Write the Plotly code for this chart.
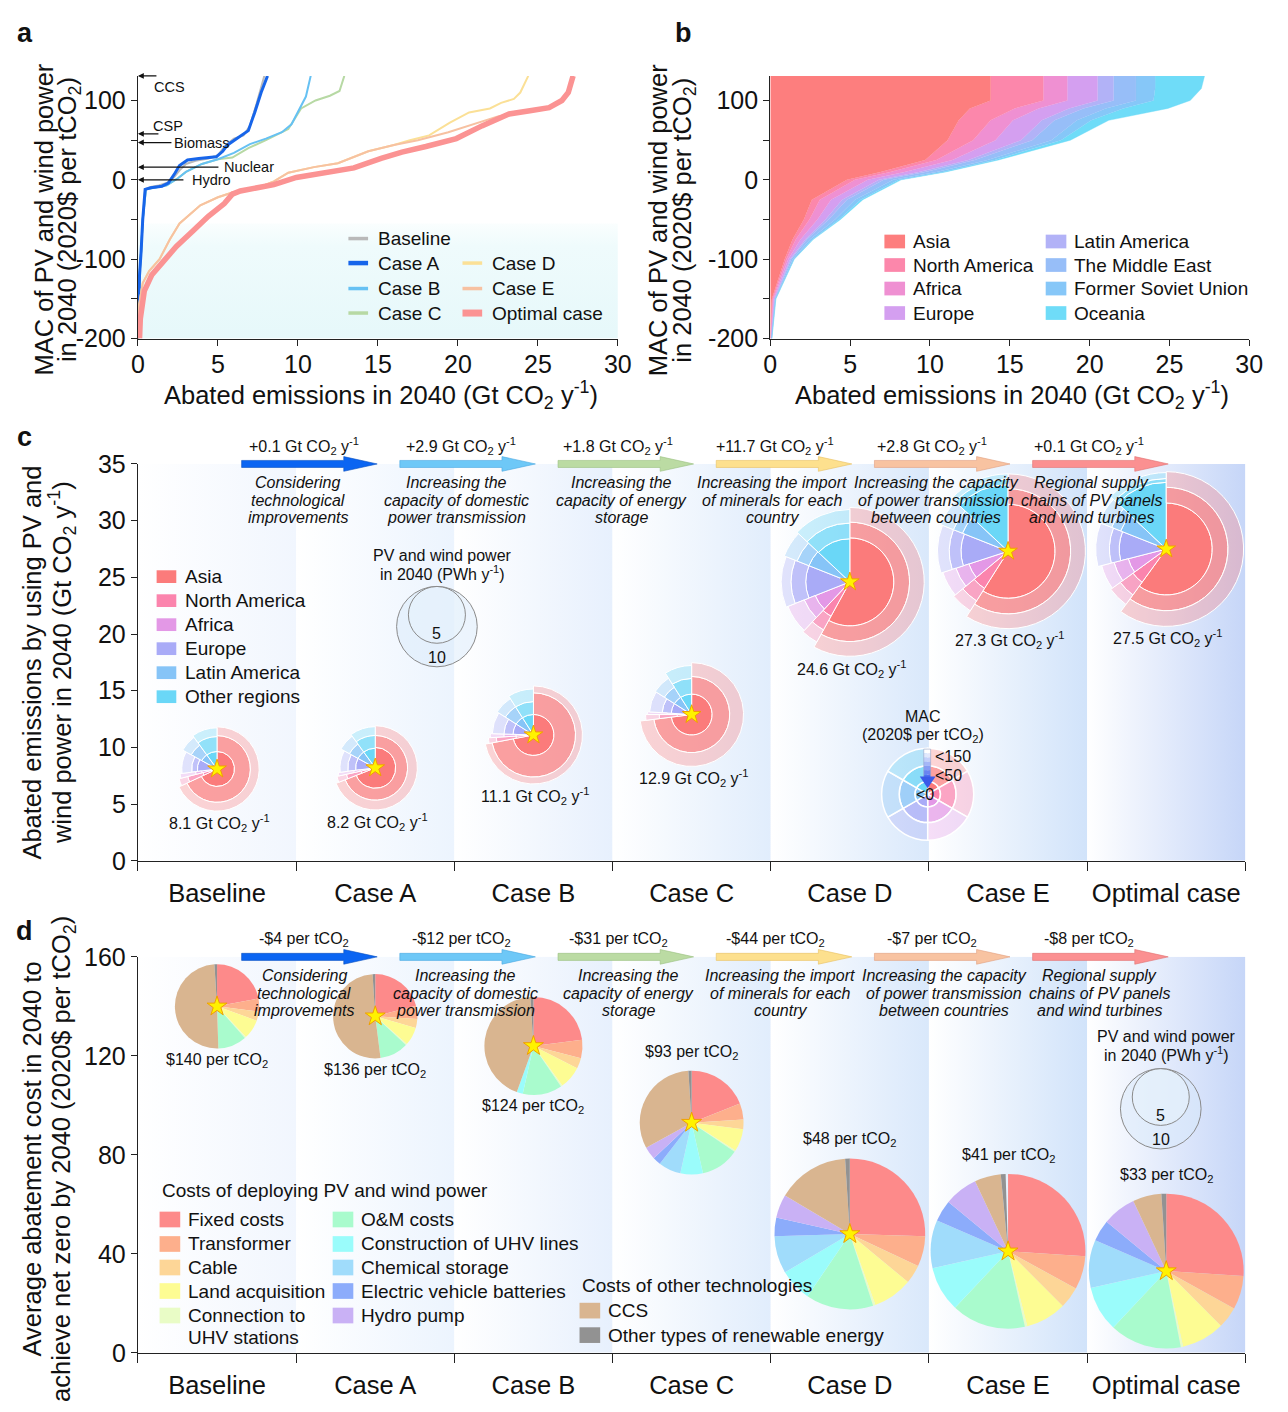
import numpy as np
import plotly.graph_objects as go

W, H = 1288, 1412          # browser window
OFF = 8                    # default body margin of the page
FW, FH = W - 2 * OFF, H - 2 * OFF   # figure size so the page fits the window exactly
FONT = "Liberation Sans, Arial, Helvetica, sans-serif"
INK = "#111111"

# ======================= DATA =======================
cases = ["Baseline", "Case A", "Case B", "Case C", "Case D", "Case E", "Optimal case"]

# ---- panel a : MAC curves (x: abated Gt CO2/yr, y: MAC 2020$/tCO2)
mac_x_baseline = [0.0, 0.03, 0.1, 0.2, 0.3, 0.45, 0.8, 1.3, 1.8, 2.2, 2.6, 3.0, 3.6, 4.4, 5.0, 5.5, 6.0, 6.6, 7.0, 7.4, 7.9]
mac_y_baseline = [-200, -160, -120, -90, -50, -12, -9, -7, -4, 2, 12, 20, 24, 27, 31, 44, 52, 56, 68, 95, 131]
mac_x_case_a = [0.0, 0.03, 0.1, 0.2, 0.3, 0.45, 0.8, 1.5, 1.9, 2.3, 2.6, 3.1, 3.8, 4.9, 5.3, 5.6, 6.2, 6.9, 7.3, 7.7, 8.1]
mac_y_case_a = [-200, -160, -120, -90, -50, -12, -10, -8, -4, 8, 18, 25, 27, 29, 36, 44, 52, 62, 85, 110, 131]
mac_x_case_b = [0.0, 0.03, 0.1, 0.2, 0.3, 0.5, 1.0, 1.8, 2.5, 3.0, 4.0, 5.0, 6.0, 7.0, 8.0, 9.0, 9.6, 10.1, 10.5, 10.8]
mac_y_case_b = [-200, -160, -120, -90, -50, -12, -10, -7, 2, 10, 20, 26, 34, 45, 52, 60, 70, 89, 105, 131]
mac_x_case_c = [0.0, 0.03, 0.1, 0.2, 0.3, 0.5, 1.0, 1.8, 2.5, 3.0, 4.0, 5.0, 5.9, 6.9, 8.0, 9.4, 10.2, 11.1, 12.0, 12.6, 12.9]
mac_y_case_c = [-200, -160, -120, -90, -50, -12, -10, -7, 2, 10, 20, 26, 28, 40, 50, 64, 90, 100, 106, 112, 131]
mac_x_case_d = [0.0, 0.05, 0.3, 0.7, 1.35, 2.0, 2.6, 3.9, 5.0, 5.9, 7.5, 8.5, 9.4, 11.0, 12.5, 14.4, 16.0, 17.0, 18.2, 19.5, 20.7, 22.0, 22.7, 23.5, 23.9, 24.4]
mac_y_case_d = [-200, -160, -130, -115, -100, -75, -55, -32, -22, -16, -10, -2, 9, 16, 21, 36, 44, 50, 56, 72, 85, 90, 97, 102, 110, 131]
mac_x_case_e = [0.0, 0.05, 0.3, 0.7, 1.35, 2.0, 2.6, 3.9, 5.0, 5.9, 7.5, 8.5, 9.4, 11.0, 12.5, 14.4, 16.0, 17.5, 19.4, 21.0, 22.5, 24.0, 25.5, 26.5, 27.0, 27.2]
mac_y_case_e = [-200, -160, -130, -115, -100, -75, -55, -32, -22, -16, -10, -2, 9, 16, 21, 36, 44, 50, 60, 70, 80, 85, 90, 100, 115, 131]
mac_x_optimal = [0.1, 0.15, 0.4, 0.86, 1.5, 2.4, 3.4, 4.4, 5.4, 5.9, 6.4, 7.5, 8.5, 9.9, 11.5, 13.5, 15.2, 16.5, 18.0, 19.9, 21.5, 23.2, 24.5, 25.7, 26.5, 26.9, 27.2]
mac_y_optimal = [-200, -175, -140, -120, -105, -84, -65, -46, -30, -18, -14, -10, -6, 3, 8, 15, 27, 35, 42, 52, 68, 83, 87, 91, 100, 110, 131]

other_tech = ["CCS", "CSP", "Biomass", "Nuclear", "Hydro"]
other_tech_mac = [131, 58, 47, 16, 0]

# ---- panel b : regional breakdown of the optimal MAC curve
b_mac_levels = [-200, -150, -100, -75, -50, -25, 0, 10, 25, 50, 75, 90, 100, 115, 131]
b_regions = ["Asia", "North America", "Africa", "Europe", "Latin America",
             "The Middle East", "Former Soviet Union", "Oceania"]
b_width_asia = [0, 0.1, 0.9, 1.4, 2.1, 2.6, 4.8, 6.9, 9.7, 11.1, 11.8, 12.5, 13.8, 13.8, 13.8]
b_width_north_america = [0.02, 0.05, 0.1, 0.2, 0.35, 0.5, 0.5, 0.6, 0.7, 1.6, 2.0, 2.8, 3.3, 3.3, 3.3]
b_width_africa = [0.02, 0.05, 0.12, 0.3, 0.5, 0.7, 0.8, 0.9, 1.0, 1.4, 1.4, 1.5, 1.5, 1.5, 1.5]
b_width_europe = [0.02, 0.05, 0.12, 0.3, 0.5, 0.7, 0.7, 0.9, 1.0, 1.6, 1.8, 1.9, 1.9, 1.9, 1.9]
b_width_latin_america = [0.01, 0.03, 0.06, 0.1, 0.2, 0.3, 0.3, 0.4, 0.4, 0.7, 0.8, 0.9, 1.0, 1.0, 1.0]
b_width_middle_east = [0.01, 0.03, 0.1, 0.2, 0.4, 0.5, 0.6, 0.7, 0.8, 1.2, 1.4, 1.4, 1.4, 1.4, 1.4]
b_width_fsu = [0.01, 0.03, 0.08, 0.15, 0.25, 0.35, 0.35, 0.4, 0.45, 0.6, 0.9, 1.1, 1.1, 1.2, 1.2]
b_width_oceania = [0.01, 0.01, 0.02, 0.05, 0.1, 0.15, 0.15, 0.2, 0.25, 0.6, 1.1, 2.8, 2.3, 2.9, 3.1]

# ---- panel c : abated emissions and regional composition
c_abated = [8.1, 8.2, 11.1, 12.9, 24.6, 27.3, 27.5]
pv_power = [11.0, 11.0, 14.9, 16.7, 35.2, 37.1, 37.1]    # PWh/yr
c_regions = ["Asia", "North America", "Africa", "Europe", "Latin America", "Other regions"]
c_share = [
    [0.68, 0.03, 0.02, 0.10, 0.07, 0.10],
    [0.69, 0.025, 0.015, 0.10, 0.07, 0.10],
    [0.72, 0.02, 0.015, 0.085, 0.07, 0.09],
    [0.73, 0.02, 0.01, 0.08, 0.07, 0.09],
    [0.58, 0.04, 0.07, 0.12, 0.06, 0.13],
    [0.59, 0.05, 0.06, 0.11, 0.06, 0.13],
    [0.60, 0.05, 0.06, 0.10, 0.06, 0.13],
]
c_power_mac_lt0 = [
    [1.9, 1.3, 1.5, 2.4, 1.9, 1.9],
    [2.6, 1.3, 1.5, 2.4, 2.4, 2.4],
    [2.6, 1.9, 1.9, 2.6, 2.6, 2.6],
    [2.6, 1.3, 1.3, 2.6, 2.6, 2.6],
    [12.0, 9.5, 8.6, 12.0, 12.0, 11.5],
    [13.7, 12.0, 10.5, 13.7, 14.9, 27.5],
    [13.1, 10.5, 9.5, 13.7, 14.9, 27.5],
]
c_power_mac_lt50 = [
    [6.9, 5.7, 2.9, 4.0, 5.4, 6.5],
    [6.5, 5.4, 2.9, 4.7, 5.4, 6.5],
    [11.0, 8.6, 5.4, 5.4, 6.9, 6.9],
    [9.0, 6.5, 3.7, 5.4, 6.5, 8.1],
    [22.1, 18.6, 14.9, 21.4, 20.0, 21.4],
    [24.3, 21.4, 18.6, 21.4, 21.4, 32.5],
    [23.6, 20.0, 18.0, 20.0, 21.4, 30.8],
]
c_power_mac_lt150 = [
    [11.0, 9.5, 8.6, 7.7, 9.5, 10.5],
    [11.0, 9.5, 8.6, 7.7, 9.5, 10.5],
    [14.9, 12.6, 11.5, 10.5, 11.5, 13.1],
    [16.7, 13.1, 12.0, 11.0, 11.5, 14.9],
    [34.3, 29.1, 27.5, 29.1, 30.8, 32.5],
    [37.1, 30.8, 29.1, 30.8, 32.5, 37.1],
    [37.1, 29.1, 27.5, 30.8, 32.5, 36.2],
]
c_step_gain = ["+0.1", "+2.9", "+1.8", "+11.7", "+2.8", "+0.1"]
step_desc = [
    ["Considering", "technological", "improvements"],
    ["Increasing the", "capacity of domestic", "power transmission"],
    ["Increasing the", "capacity of energy", "storage"],
    ["Increasing the import", "of minerals for each", "country"],
    ["Increasing the capacity", "of power transmission", "between countries"],
    ["Regional supply", "chains of PV panels", "and wind turbines"],
]
mac_legend_labels = ["<150", "<50", "<0"]

# ---- panel d : average abatement cost and cost composition
d_avg_cost = [140, 136, 124, 93, 48, 41, 33]
d_step_saving = ["-$4", "-$12", "-$31", "-$44", "-$7", "-$8"]
cost_items = ["Fixed costs", "Transformer", "Cable", "Land acquisition",
              "Connection to UHV stations", "O&M costs", "Construction of UHV lines",
              "Chemical storage", "Electric vehicle batteries", "Hydro pump",
              "CCS", "Other types of renewable energy"]
d_share = [
    [0.22, 0.05, 0.035, 0.075, 0.005, 0.11, 0, 0, 0, 0, 0.495, 0.01],
    [0.21, 0.05, 0.035, 0.07, 0.005, 0.11, 0, 0, 0, 0, 0.51, 0.01],
    [0.23, 0.06, 0.035, 0.075, 0.005, 0.13, 0.02, 0, 0, 0, 0.435, 0.01],
    [0.19, 0.05, 0.03, 0.07, 0.005, 0.12, 0.07, 0.07, 0.025, 0.04, 0.32, 0.01],
    [0.255, 0.065, 0.04, 0.085, 0.005, 0.145, 0.07, 0.08, 0.04, 0.05, 0.155, 0.01],
    [0.26, 0.07, 0.045, 0.085, 0.005, 0.155, 0.095, 0.1, 0.045, 0.07, 0.055, 0.01],
    [0.26, 0.07, 0.045, 0.09, 0.005, 0.15, 0.095, 0.1, 0.045, 0.07, 0.06, 0.01],
]

# ======================= STYLE =======================
line_colors = ["#b9b9b9", "#1765ea", "#66c1f3", "#b7d9a4", "#fbe096", "#f7c1a1", "#fb9393"]
line_widths = [2, 3, 2, 2, 2, 2, 5.5]
b_colors = ["#fd7e7e", "#fc87ab", "#ef90d2", "#d49ff0", "#b2b2f7", "#97bef8", "#86c7f8", "#6fdcf8"]
c_colors = ["#fb7b7b", "#fb84ad", "#e398e6", "#a9abf7", "#86c4f7", "#6ad7f7"]
ring_alpha = [1.0, 0.72, 0.32]
cost_colors = ["#fd8a8a", "#fdaf8c", "#fdd697", "#fdfc93", "#e9fcc6", "#a9fbcd", "#9afcfb",
               "#a0dcfb", "#8cacfb", "#c9b1f5", "#d9b590", "#929292"]
arrow_colors = ["#0b65f2", "#6ec8f7", "#bbdba3", "#fde08e", "#f8c3a1", "#fb9091"]
arrow_edges = ["#0a50c0", "#4aa8e0", "#98c080", "#e8c060", "#e0a080", "#e07070"]
col_end = ["#f1f6fe", "#ecf4fe", "#e7f0fd", "#e1edfc", "#d9e8fb", "#d1e3fa", "#c6d6f8"]
c_desc_dx = [-12, -11, -4, -12, -6, -9]     # text block offsets from arrow centres (px)
d_desc_dx = [-5, -2, 3, -4, 2, -1]

TITLE_SIZE = 25.5
TICK_SIZE = 25
SMALL = 16

# ======================= GEOMETRY (window pixels) =======================
A_X = (133, 621); B_X = (776, 1263); AB_Y = (331, 63)
CD_X = (133, 1259); C_Y = (864, 459); D_Y = (1366, 962)
C_MAX, D_MAX = 35, 160
R_SCALE = 41 / np.sqrt(10)   # px per sqrt(PWh)


def xp(px):
    return (px - OFF) / FW


def yp(py):
    return 1 - (py - OFF) / FH


def rgba(h, a):
    h = h.lstrip("#")
    return f"rgba({int(h[0:2], 16)},{int(h[2:4], 16)},{int(h[4:6], 16)},{a})"


def col_center(i):
    return CD_X[0] + (i + 0.5) / 7 * (CD_X[1] - CD_X[0])


def c_py(v):
    return C_Y[0] - v / C_MAX * (C_Y[0] - C_Y[1])


def d_py(v):
    return D_Y[0] - v / D_MAX * (D_Y[0] - D_Y[1])


fig = go.Figure()
annos, shapes = [], []
layout_extra = {}


def text(px, py, s, size=15, xanchor="center", yanchor="middle", angle=0, color=INK):
    annos.append(dict(x=xp(px), y=yp(py), xref="paper", yref="paper", text=s, showarrow=False,
                      xanchor=xanchor, yanchor=yanchor, textangle=angle,
                      font=dict(family=FONT, size=size, color=color)))


def rect(x0, y0, x1, y1, color, line=None):
    shapes.append(dict(type="rect", xref="paper", yref="paper", x0=xp(x0), x1=xp(x1),
                       y0=yp(y1), y1=yp(y0), fillcolor=color,
                       line=dict(width=0) if line is None else line, layer="above"))


# ======================= PANEL a =======================
fig.add_trace(go.Scatter(x=[0, 30, 30, 0, 0], y=[-200, -200, -55, -55, -200], fill="toself",
                         mode="lines", line=dict(width=0),
                         fillgradient=dict(type="vertical",
                                           colorscale=[[0, "#e6f8fa"], [0.8, "#effbfc"], [1, "#fafefe"]]),
                         hoverinfo="skip", showlegend=False, xaxis="x", yaxis="y"))
a_series = [(mac_x_baseline, mac_y_baseline), (mac_x_case_a, mac_y_case_a),
            (mac_x_case_b, mac_y_case_b), (mac_x_case_c, mac_y_case_c),
            (mac_x_case_d, mac_y_case_d), (mac_x_case_e, mac_y_case_e),
            (mac_x_optimal, mac_y_optimal)]
for k in [0, 3, 2, 1, 4, 5, 6]:
    xs, ys = a_series[k]
    fig.add_trace(go.Scatter(x=xs, y=ys, mode="lines", name=cases[k],
                             line=dict(color=line_colors[k], width=line_widths[k]),
                             hoverinfo="skip", showlegend=False, xaxis="x", yaxis="y"))

# other technologies arrows
arrow_len = [20, 22, 35, 82, 47]
label_dx = [14, 13, 35, 85, 53]
for name, v, L, dx in zip(other_tech, other_tech_mac, arrow_len, label_dx):
    annos.append(dict(x=0, y=v, xref="x", yref="y", ax=L, ay=0, text="", showarrow=True,
                      arrowhead=2, arrowsize=0.9, arrowwidth=1.3, arrowcolor="#111"))
    ylab = AB_Y[0] - (v + 200) / 331 * (AB_Y[0] - AB_Y[1])
    if name in ("CCS", "CSP"):
        text(A_X[0] + dx, ylab + (11 if name == "CCS" else -8), name, size=14.5, xanchor="left")
    else:
        text(A_X[0] + dx, ylab, name, size=14.5, xanchor="left")

# legend a
leg_pos = [(347, 229), (347, 254), (347, 280), (347, 305), (463, 254), (463, 280), (463, 305)]
for k, (lx, ly) in enumerate(leg_pos):
    shapes.append(dict(type="line", xref="paper", yref="paper", x0=xp(lx), x1=xp(lx + 20),
                       y0=yp(ly), y1=yp(ly), line=dict(color=line_colors[k],
                                                          width=min(line_widths[k] + 1.5, 7)), layer="above"))
    text(lx + 28, ly, cases[k], size=19, xanchor="left")

# ======================= PANEL b =======================
widths_b = [b_width_asia, b_width_north_america, b_width_africa, b_width_europe,
            b_width_latin_america, b_width_middle_east, b_width_fsu, b_width_oceania]
cum = np.cumsum(np.array(widths_b), axis=0)
for k in range(len(b_regions)):
    fig.add_trace(go.Scatter(x=cum[k], y=b_mac_levels, mode="lines", line=dict(width=0.4, color=b_colors[k]),
                             fill="tozerox" if k == 0 else "tonextx", fillcolor=b_colors[k],
                             hoverinfo="skip", showlegend=False, xaxis="x2", yaxis="y2"))
b_leg = [(892, 232), (892, 256), (892, 280), (892, 305), (1056, 232), (1056, 256), (1056, 280), (1056, 305)]
for k, (lx, ly) in enumerate(b_leg):
    rect(lx, ly - 7, lx + 21, ly + 7, b_colors[k])
    text(lx + 27, ly, b_regions[k], size=19, xanchor="left")

# ======================= PANEL c / d backgrounds =======================
for ax_x, ax_y, top in [("x3", "y3", C_MAX), ("x4", "y4", D_MAX)]:
    for i in range(7):
        fig.add_trace(go.Scatter(x=[i, i + 1, i + 1, i, i], y=[0, 0, top, top, 0], fill="toself",
                                 mode="lines", line=dict(width=0),
                                 fillgradient=dict(type="horizontal",
                                                   colorscale=[[0, "#ffffff"], [1, col_end[i]]]),
                                 hoverinfo="skip", showlegend=False, xaxis=ax_x, yaxis=ax_y))


# ======================= step arrows =======================
def step_arrows(y_px, labels, unit, desc_dx, desc_y0):
    for j in range(6):
        xs = col_center(j) + 25
        xe = col_center(j + 1) + 2
        hl, sh, hh = 34, 3.6, 7.5
        pts = [(xs, y_px - sh), (xe - hl, y_px - sh), (xe - hl, y_px - hh), (xe, y_px),
               (xe - hl, y_px + hh), (xe - hl, y_px + sh), (xs, y_px + sh)]
        path = "M " + " L ".join(f"{xp(a):.5f},{yp(b):.5f}" for a, b in pts) + " Z"
        shapes.append(dict(type="path", xref="paper", yref="paper", path=path,
                           fillcolor=arrow_colors[j], line=dict(color=arrow_edges[j], width=0.6), layer="above"))
        mid = (xs + xe) / 2
        text(mid - 5 - 1.3 * j, y_px - 18, labels[j] + unit, size=SMALL)
        for li, line in enumerate(step_desc[j]):
            text(mid + desc_dx[j], desc_y0 + 18 * li, "<i>" + line + "</i>", size=16)


step_arrows(c_py(C_MAX), c_step_gain, " Gt CO<sub>2</sub> y<sup>-1</sup>", c_desc_dx, 478)
step_arrows(d_py(D_MAX), d_step_saving, " per tCO<sub>2</sub>", d_desc_dx, 981)

# ======================= polar helpers =======================
polar_n = [0]


def new_polar(cx, cy, half):
    polar_n[0] += 1
    name = "polar" if polar_n[0] == 1 else f"polar{polar_n[0]}"
    layout_extra[name] = dict(
        domain=dict(x=[xp(cx - half), xp(cx + half)], y=[yp(cy + half), yp(cy - half)]),
        bgcolor="rgba(0,0,0,0)",
        angularaxis=dict(visible=False, direction="clockwise", rotation=90),
        radialaxis=dict(visible=False, range=[0, half]))
    return name


def star(sub, size=15):
    fig.add_trace(go.Scatterpolar(r=[0], theta=[0], mode="markers", subplot=sub,
                                  marker=dict(symbol="star", size=size, color="#fff200",
                                              line=dict(color="#f0a000", width=1)),
                                  hoverinfo="skip", showlegend=False))


# ======================= PANEL c donuts =======================
for i in range(7):
    cx, cy = col_center(i), c_py(c_abated[i])
    R = R_SCALE * np.sqrt(pv_power[i])
    sub = new_polar(cx, cy, R + 6)
    shares = np.array(c_share[i])
    starts = np.concatenate([[0], np.cumsum(shares)[:-1]]) * 360
    widths = shares * 360
    thetas = starts + widths / 2
    levels = [np.array(c_power_mac_lt0[i]), np.array(c_power_mac_lt50[i]), np.array(c_power_mac_lt150[i])]
    prev = np.zeros(6)
    for k in range(3):
        rad = R_SCALE * np.sqrt(levels[k])
        fig.add_trace(go.Barpolar(r=rad - prev, base=prev, theta=thetas, width=widths, subplot=sub,
                                  marker=dict(color=[rgba(c, ring_alpha[k]) for c in c_colors],
                                              line=dict(color="white", width=1)),
                                  hoverinfo="skip", showlegend=False))
        prev = rad
    star(sub, 14)
    text(cx + 2, cy + R + 12, f"{c_abated[i]} Gt CO<sub>2</sub> y<sup>-1</sup>", size=SMALL)

# MAC legend donut
mcx, mcy = 936, 796
sub = new_polar(mcx, mcy, 50)
mac_radii = [13, 29, 47]
prev = 0
for k in range(3):
    fig.add_trace(go.Barpolar(r=[mac_radii[k] - prev] * 6, base=[prev] * 6,
                              theta=[30 + 60 * j for j in range(6)], width=[60] * 6, subplot=sub,
                              marker=dict(color=[rgba(c, ring_alpha[k]) for c in c_colors],
                                          line=dict(color="white", width=1.5)),
                              hoverinfo="skip", showlegend=False))
    prev = mac_radii[k]
text(931, 717, "MAC", size=SMALL)
text(931, 736, "(2020$ per tCO<sub>2</sub>)", size=SMALL)
grad = ["#ffffff", "#e2e8fc", "#c4d0fa", "#a5b6f7", "#879cf4", "#6a84f1", "#4f6ef0"]
for g, gc in enumerate(grad):
    rect(932, 750 + g * 4.3, 939, 750 + (g + 1) * 4.3, gc)
shapes.append(dict(type="rect", xref="paper", yref="paper", x0=xp(932), x1=xp(939), y0=yp(780), y1=yp(750),
                   line=dict(color="#9aa6c8", width=0.6), layer="above"))
hp = [(928, 778), (944, 778), (936, 790)]
shapes.append(dict(type="path", xref="paper", yref="paper",
                   path="M " + " L ".join(f"{xp(a):.5f},{yp(b):.5f}" for a, b in hp) + " Z",
                   fillcolor="#3a5ae8", line=dict(width=0), layer="above"))
text(941, 758, mac_legend_labels[0], size=SMALL, xanchor="left")
text(941, 777, mac_legend_labels[1], size=SMALL, xanchor="left")
text(933, 796, mac_legend_labels[2], size=SMALL)

# c region legend
for k, reg in enumerate(c_regions):
    ly = 574 + 24.5 * k
    rect(152, ly - 6.5, 172, ly + 6.5, c_colors[k])
    text(179, ly, reg, size=19, xanchor="left")


# PV power size legends
def pv_legend(cx, top, title_y):
    text(cx + 6, title_y, "PV and wind power", size=SMALL)
    text(cx + 6, title_y + 18, "in 2040 (PWh y<sup>-1</sup>)", size=SMALL)
    r10 = R_SCALE * np.sqrt(10)
    r5 = R_SCALE * np.sqrt(5)
    for r, fill in [(r10, "rgba(214,232,250,0.45)"), (r5, "rgba(232,242,252,0.55)")]:
        shapes.append(dict(type="circle", xref="paper", yref="paper", x0=xp(cx - r), x1=xp(cx + r),
                           y0=yp(top + 2 * r), y1=yp(top), fillcolor=fill,
                           line=dict(color="#8a8a8a", width=1), layer="above"))
    text(cx, top + 2 * r5 - 10, "5", size=SMALL)
    text(cx, top + 2 * r10 - 10, "10", size=SMALL)


pv_legend(437, 584, 552)
pv_legend(1173, 1076, 1043)

# ======================= PANEL d pies =======================
for i in range(7):
    cx, cy = col_center(i), d_py(d_avg_cost[i])
    R = R_SCALE * np.sqrt(pv_power[i])
    sub = new_polar(cx, cy, R + 4)
    shares = np.array(d_share[i])
    starts = np.concatenate([[0], np.cumsum(shares)[:-1]]) * 360
    widths = shares * 360
    keep = shares > 0
    fig.add_trace(go.Barpolar(r=[R] * int(keep.sum()), base=[0] * int(keep.sum()),
                              theta=(starts + widths / 2)[keep], width=widths[keep], subplot=sub,
                              marker=dict(color=[c for c, kp in zip(cost_colors, keep) if kp],
                                          line=dict(width=0)),
                              hoverinfo="skip", showlegend=False))
    star(sub, 15)
    lab = f"${d_avg_cost[i]} per tCO<sub>2</sub>"
    if i < 3:
        text(cx, cy + R + 12, lab, size=SMALL)
    else:
        text(cx, cy - R - 19, lab, size=SMALL)

# d legend
text(155, 1200, "Costs of deploying PV and wind power", size=19, xanchor="left")
col1 = [(155, 1230), (155, 1255), (155, 1279), (155, 1303), (155, 1328)]
col2 = [(331, 1230), (331, 1255), (331, 1279), (331, 1303), (331, 1328)]
for k, (lx, ly) in enumerate(col1 + col2):
    rect(lx, ly - 8, lx + 21, ly + 8, cost_colors[k])
    if k == 4:
        text(lx + 27, ly, "Connection to", size=19, xanchor="left")
        text(lx + 27, ly + 22, "UHV stations", size=19, xanchor="left")
    else:
        text(lx + 27, ly, cost_items[k], size=19, xanchor="left")
text(582, 1297, "Costs of other technologies", size=19, xanchor="left")
for k, ly in [(10, 1323), (11, 1348)]:
    rect(582, ly - 8, 603, ly + 8, cost_colors[k])
    text(609, ly, cost_items[k], size=19, xanchor="left")

# ======================= titles / panel letters =======================
text(18, 19, "<b>a</b>", size=27)
text(688, 19, "<b>b</b>", size=27)
text(18, 432, "<b>c</b>", size=27)
text(18, 936, "<b>d</b>", size=27)

for x0 in (37, 662):
    text(x0, 210, "MAC of PV and wind power", size=TITLE_SIZE, angle=-90)
    text(x0 + 26, 210, "in 2040 (2020$ per tCO<sub>2</sub>)", size=TITLE_SIZE, angle=-90)
text(380, 389, "Abated emissions in 2040 (Gt CO<sub>2</sub> y<sup>-1</sup>)", size=TITLE_SIZE)
text(1022, 389, "Abated emissions in 2040 (Gt CO<sub>2</sub> y<sup>-1</sup>)", size=TITLE_SIZE)
text(25, 662, "Abated emissions by using PV and", size=TITLE_SIZE, angle=-90)
text(56, 662, "wind power in 2040 (Gt CO<sub>2</sub> y<sup>-1</sup>)", size=TITLE_SIZE, angle=-90)
text(25, 1168, "Average abatement cost in 2040 to", size=TITLE_SIZE, angle=-90)
text(57, 1168, "achieve net zero by 2040 (2020$ per tCO<sub>2</sub>)", size=TITLE_SIZE, angle=-90)


# ======================= AXES =======================
def axis(**kw):
    base = dict(showline=True, linecolor="#222", linewidth=1.3, ticks="outside", ticklen=6,
                tickcolor="#222", tickwidth=1.2, showgrid=False, zeroline=False, fixedrange=True,
                tickfont=dict(family=FONT, size=TICK_SIZE, color=INK))
    base.update(kw)
    return base


ab_yticks = [-200, -150, -100, -50, 0, 50, 100]
ab_ytext = ["-200", "", "-100", "", "0", "", "100"]


def cat_axis(standoff):
    return dict(range=[0, 7], tickmode="array", tickvals=[i + 0.5 for i in range(7)], ticktext=cases,
                ticks="", ticklabelstandoff=standoff,
                tickfont=dict(family=FONT, size=25.5, color=INK),
                minor=dict(tickmode="array", tickvals=list(range(8)), ticks="outside", ticklen=9,
                           tickcolor="#222", tickwidth=1.2))


fig.update_layout(
    width=FW, height=FH, margin=dict(l=0, r=0, t=0, b=0), paper_bgcolor="white",
    plot_bgcolor="rgba(0,0,0,0)", showlegend=False, font=dict(family=FONT, color=INK),
    xaxis=axis(domain=[xp(A_X[0]), xp(A_X[1])], range=[0, 30], tickvals=list(range(0, 31, 5)),
               anchor="y", ticklabelstandoff=-3),
    yaxis=axis(domain=[yp(AB_Y[0]), yp(AB_Y[1])], range=[-200, 131], tickvals=ab_yticks,
               ticktext=ab_ytext, anchor="x"),
    xaxis2=axis(domain=[xp(B_X[0]), xp(B_X[1])], range=[0, 30], tickvals=list(range(0, 31, 5)),
                anchor="y2", ticklabelstandoff=-3),
    yaxis2=axis(domain=[yp(AB_Y[0]), yp(AB_Y[1])], range=[-200, 131], tickvals=ab_yticks,
                ticktext=ab_ytext, anchor="x2"),
    xaxis3=axis(domain=[xp(CD_X[0]), xp(CD_X[1])], anchor="y3", **cat_axis(9)),
    yaxis3=axis(domain=[yp(C_Y[0]), yp(C_Y[1])], range=[0, C_MAX], tickvals=list(range(0, 36, 5)),
                anchor="x3"),
    xaxis4=axis(domain=[xp(CD_X[0]), xp(CD_X[1])], anchor="y4", **cat_axis(9)),
    yaxis4=axis(domain=[yp(D_Y[0]), yp(D_Y[1])], range=[0, D_MAX], tickvals=list(range(0, 161, 40)),
                anchor="x4"),
    annotations=annos, shapes=shapes, **layout_extra,
)

fig.write_html("out.html", config={"displayModeBar": False})
